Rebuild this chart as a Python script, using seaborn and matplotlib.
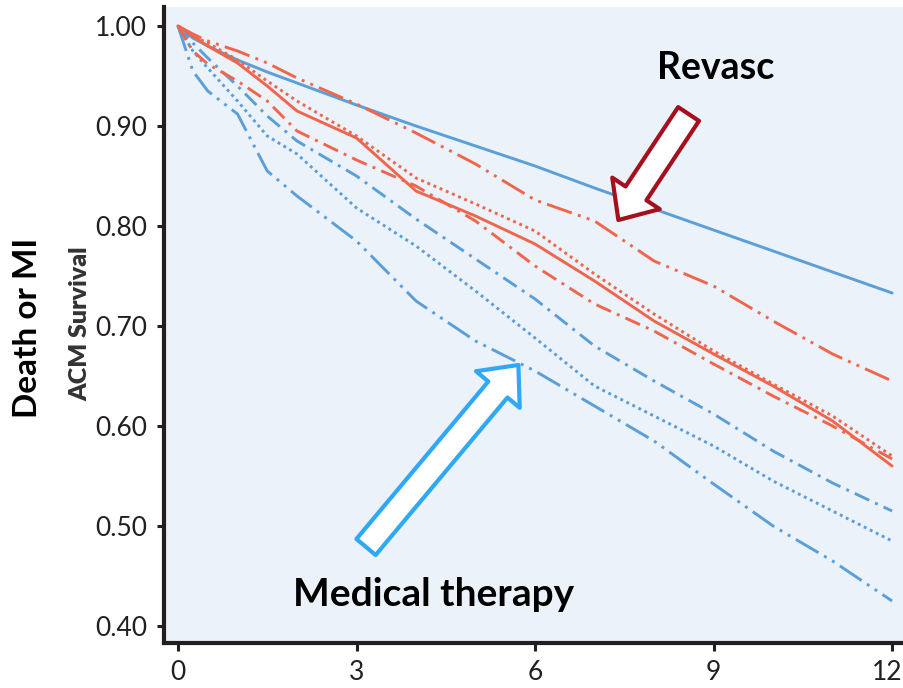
import numpy as np
import pandas as pd
import matplotlib
matplotlib.use("Agg")
import matplotlib.pyplot as plt
import matplotlib.transforms as mtransforms
import seaborn as sns

# months of follow-up (common grid for all curves)
months = [0, 0.25, 0.5, 1, 1.5, 2, 3, 4, 5, 6, 7, 8, 9, 10, 11, 12]

# medical therapy arms (blue)
med_solid = [1.0, 0.988, 0.98, 0.966, 0.954, 0.943, 0.921, 0.9, 0.88, 0.86, 0.838, 0.817, 0.796, 0.775, 0.754, 0.733]
med_dashdot = [1.0, 0.983, 0.968, 0.94, 0.91, 0.885, 0.85, 0.807, 0.767, 0.727, 0.68, 0.645, 0.612, 0.575, 0.543, 0.515]
med_dotted = [1.0, 0.975, 0.958, 0.925, 0.89, 0.872, 0.818, 0.78, 0.735, 0.688, 0.64, 0.61, 0.58, 0.545, 0.515, 0.485]
med_dashdotdot = [1.0, 0.955, 0.935, 0.912, 0.855, 0.83, 0.785, 0.725, 0.685, 0.655, 0.62, 0.585, 0.542, 0.5, 0.465, 0.425]

# revascularisation arms (red)
rev_dashdotdot = [1.0, 0.992, 0.985, 0.975, 0.963, 0.948, 0.922, 0.893, 0.862, 0.826, 0.805, 0.765, 0.74, 0.705, 0.672, 0.645]
rev_dotted = [1.0, 0.99, 0.983, 0.966, 0.945, 0.925, 0.89, 0.848, 0.822, 0.795, 0.752, 0.712, 0.675, 0.642, 0.61, 0.57]
rev_solid = [1.0, 0.99, 0.98, 0.963, 0.94, 0.915, 0.888, 0.835, 0.81, 0.782, 0.745, 0.705, 0.672, 0.64, 0.605, 0.56]
rev_dashdot = [1.0, 0.975, 0.962, 0.945, 0.925, 0.895, 0.866, 0.84, 0.805, 0.76, 0.722, 0.695, 0.662, 0.63, 0.6, 0.567]

x_ticks = [0, 3, 6, 9, 12]
y_ticks = [0.40, 0.50, 0.60, 0.70, 0.80, 0.90, 1.00]

BLUE = "#5A9FD8"
RED = "#F0664C"
dotted = (0, (1, 1.3))
dashdot = (0, (5.5, 2.2, 1, 2.2))
dashdotdot = (0, (9, 2.2, 1, 2.2, 1, 2.2))

series = [
    (med_solid, BLUE, "-"),
    (med_dashdot, BLUE, dashdot),
    (med_dotted, BLUE, dotted),
    (med_dashdotdot, BLUE, dashdotdot),
    (rev_dashdotdot, RED, dashdotdot),
    (rev_dotted, RED, dotted),
    (rev_solid, RED, "-"),
    (rev_dashdot, RED, dashdot),
]

sns.set_theme(style="white")
plt.rcParams["font.family"] = ["Lato", "DejaVu Sans"]

fig = plt.figure(figsize=(9.04, 6.88), dpi=100)
ax = fig.add_axes([164 / 904, 45 / 688, (904 - 164) / 904, (643 - 7) / 688])
ax.set_facecolor("#EBF2FA")

for vals, col, ls in series:
    sns.lineplot(x=months, y=vals, color=col, linestyle=ls, linewidth=2.1, ax=ax)

ax.set_xlim(-0.235, 12.2)
ax.set_ylim(0.383, 1.019)
ax.set_xticks(x_ticks)
ax.set_yticks(y_ticks)
ax.set_xticklabels([str(t) for t in x_ticks])
ax.set_yticklabels([f"{t:.2f}" for t in y_ticks])

for s in ["top", "right"]:
    ax.spines[s].set_visible(False)
for s in ["left", "bottom"]:
    ax.spines[s].set_linewidth(3)
    ax.spines[s].set_color("#231F20")

ax.tick_params(axis="y", direction="out", length=5, width=2.2, color="#231F20", pad=7,
               labelsize=19, labelcolor="#231F20", left=True)
ax.tick_params(axis="x", direction="out", length=6, width=2.2, color="#231F20", pad=6,
               labelsize=19, labelcolor="#231F20", bottom=True)
for lab in ax.get_xticklabels() + ax.get_yticklabels():
    lab.set_family(["Lato", "DejaVu Sans"])

# nudge the last x label so it stays inside the picture
last = ax.get_xticklabels()[-1]
last.set_transform(last.get_transform() + mtransforms.ScaledTranslation(-5 / 100, 0, fig.dpi_scale_trans))

# axis titles
fig.text(28 / 904, 1 - 328 / 688, "Death or MI", rotation=90, ha="center", va="center",
         fontsize=24, fontweight="bold", color="black")
fig.text(80 / 904, 1 - 324 / 688, "ACM Survival", rotation=90, ha="center", va="center",
         fontsize=18, fontweight="heavy", color="#333333")

# annotations
ax.text(9.03, 0.958, "Revasc", ha="center", va="center", fontsize=27, fontweight="bold", color="black")
ax.text(4.30, 0.432, "Medical therapy", ha="center", va="center", fontsize=28, fontweight="bold", color="black")

arrow_style = "simple,head_length=23,head_width=41,tail_width=18"
ax.annotate("", xy=(7.4, 0.806), xytext=(8.58, 0.912),
            arrowprops=dict(arrowstyle=arrow_style, mutation_scale=1, fc="white",
                            ec="#A6101E", lw=3, shrinkA=0, shrinkB=0))
ax.annotate("", xy=(5.72, 0.661), xytext=(3.16, 0.479),
            arrowprops=dict(arrowstyle=arrow_style, mutation_scale=1, fc="white",
                            ec="#2FA8F8", lw=3, shrinkA=0, shrinkB=0))

fig.savefig("out.png", dpi=100, facecolor="white")
